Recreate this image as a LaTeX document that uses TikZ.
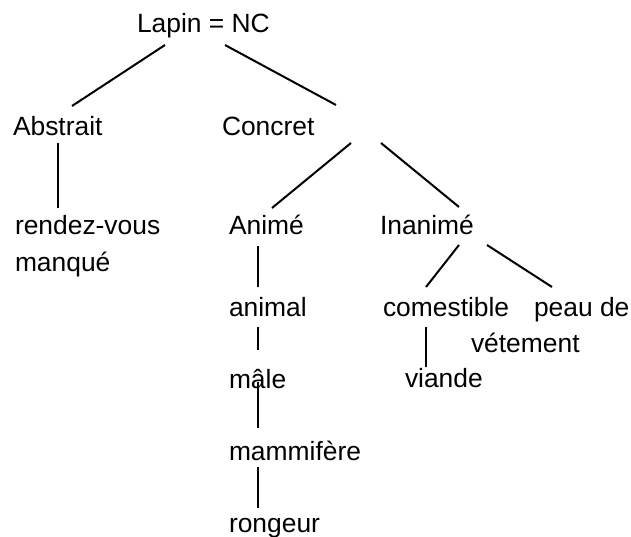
\documentclass[tikz,border=0pt]{standalone}
\usepackage{fontspec}
\setmainfont{Liberation Sans}
\begin{document}
\begin{tikzpicture}[x=1pt,y=-1pt,
  lbl/.style={anchor=base west,inner sep=0pt,outer sep=0pt,font=\fontsize{26.4}{36}\selectfont,align=left},
  conn/.style={line width=2pt,black}]
\useasboundingbox (0,0) rectangle (631,537);
\node[lbl] (lapin) at (137,33) {Lapin = NC};
\node[lbl] (abs) at (13,136) {Abstrait};
\node[lbl] (con) at (222,136) {Concret};
\node[lbl] (rdv) at (15,271) {rendez-vous\\manqué};
\node[lbl] (anime) at (229,235) {Animé};
\node[lbl] (inanime) at (380,235) {Inanimé};
\node[lbl] (animal) at (229,316) {animal};
\node[lbl] (male) at (229,388) {mâle};
\node[lbl] (mammi) at (229,460) {mammifère};
\node[lbl] (rongeur) at (229,532) {rongeur};
\node[lbl] (comest) at (383,316) {comestible};
\node[lbl] (peau) at (471,352) {\hspace*{63pt}peau de\\vétement};
\node[lbl] (viande) at (405,387) {viande};

\draw[conn] ([shift={(28,12)}]lapin.base west) -- ([shift={(59,-30)}]abs.base west);
\draw[conn] ([shift={(88,12)}]lapin.base west) -- ([shift={(114,-31)}]con.base west);
\draw[conn] ([shift={(45,7)}]abs.base west) -- ([shift={(43,-63)}]rdv.base west);
\draw[conn] ([shift={(129,7)}]con.base west) -- ([shift={(43,-27)}]anime.base west);
\draw[conn] ([shift={(159,7)}]con.base west) -- ([shift={(79,-28)}]inanime.base west);
\draw[conn] ([shift={(29,11)}]anime.base west) -- ([shift={(29,-29)}]animal.base west);
\draw[conn] ([shift={(29,11)}]animal.base west) -- ([shift={(29,-38)}]male.base west);
\draw[conn] ([shift={(29,-6)}]male.base west) -- ([shift={(29,-32)}]mammi.base west);
\draw[conn] ([shift={(29,7)}]mammi.base west) -- ([shift={(29,-24)}]rongeur.base west);
\draw[conn] ([shift={(79,10)}]inanime.base west) -- ([shift={(43,-29)}]comest.base west);
\draw[conn] ([shift={(107,10)}]inanime.base west) -- ([shift={(81,-65)}]peau.base west);
\draw[conn] ([shift={(43,11)}]comest.base west) -- ([shift={(21,-20)}]viande.base west);
\end{tikzpicture}
\end{document}
